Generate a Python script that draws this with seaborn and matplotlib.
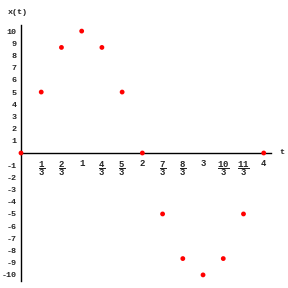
import matplotlib
matplotlib.use("Agg")
import matplotlib.pyplot as plt
import seaborn as sns
import pandas as pd

sns.set_style("white")
plt.rcParams['font.family'] = ['Liberation Mono', 'DejaVu Sans']
plt.rcParams['font.weight'] = 'bold'
plt.rcParams['mathtext.fontset'] = 'custom'
plt.rcParams['mathtext.rm'] = 'Liberation Mono:bold'
plt.rcParams['mathtext.it'] = 'Liberation Mono:bold'
plt.rcParams['mathtext.bf'] = 'Liberation Mono:bold'

t_values = [0, 1/3, 2/3, 1, 4/3, 5/3, 2, 7/3, 8/3, 3, 10/3, 11/3, 4]
x_values = [0, 5, 8.66, 10, 8.66, 5, 0, -5, -8.66, -10, -8.66, -5, 0]
x_tick_labels = [r"$\dfrac{1}{3}$", r"$\dfrac{2}{3}$", "1", r"$\dfrac{4}{3}$", r"$\dfrac{5}{3}$", "2",
                 r"$\dfrac{7}{3}$", r"$\dfrac{8}{3}$", "3", r"$\dfrac{10}{3}$", r"$\dfrac{11}{3}$", "4"]
y_ticks = [-10, -9, -8, -7, -6, -5, -4, -3, -2, -1, 1, 2, 3, 4, 5, 6, 7, 8, 9, 10]

df = pd.DataFrame({"t": t_values, "x": x_values})

fig = plt.figure(figsize=(2.88, 2.88), dpi=100)
ax = fig.add_axes([21/288, 1 - 281/288, 250/288, 256/288])
sns.scatterplot(data=df, x="t", y="x", ax=ax, color="#ff0000", s=12,
                edgecolor="none", clip_on=False, zorder=5)
ax.set_xlim(0, 4.12)
ax.set_ylim(-10.5, 10.5)
ax.spines['left'].set_position(('data', 0))
ax.spines['bottom'].set_position(('data', 0))
ax.spines['top'].set_visible(False)
ax.spines['right'].set_visible(False)
for s in ['left', 'bottom']:
    ax.spines[s].set_linewidth(1.0)
    ax.spines[s].set_color('black')

ax.set_xticks(t_values[1:])
ax.set_xticklabels(x_tick_labels, fontsize=6.5)
ax.set_yticks(y_ticks)
ax.set_yticklabels([str(v) for v in y_ticks], fontsize=6)
ax.tick_params(axis='both', direction='inout', length=3, width=0.6, pad=1.5)
ax.tick_params(axis='x', pad=3)
ax.set_xlabel("")
ax.set_ylabel("")
fig.text(8/288, 1 - 12/288, "x(t)", fontsize=6, va='center', ha='left')
fig.text(279/288, 1 - 152/288, "t", fontsize=6, va='center', ha='left')

fig.savefig("out.png", dpi=100)
